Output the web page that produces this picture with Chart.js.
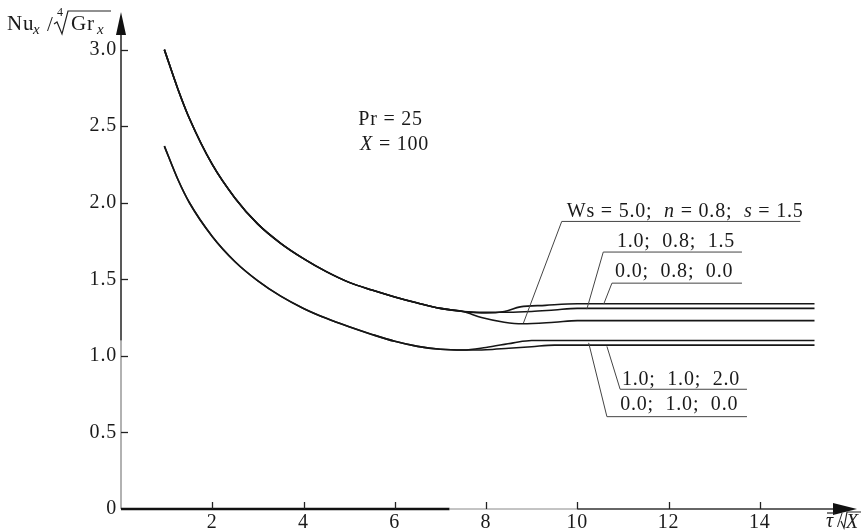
<!DOCTYPE html>
<html>
<head>
<meta charset="utf-8">
<script src="https://cdn.jsdelivr.net/npm/chart.js@4.4.0/dist/chart.umd.min.js"></script>
<style>
  html, body { margin: 0; padding: 0; background: #fff; }
  #wrap { width: 861px; height: 531px; }
</style>
</head>
<body>
<div id="wrap"><canvas id="Chart" width="861" height="531"></canvas></div>
<script>
// tick values
const xTicks = [2, 4, 6, 8, 10, 12, 14];
const yTicks = [0, 0.5, 1.0, 1.5, 2.0, 2.5, 3.0];

// common part of the curves, before they split
const xHead = [0.95, 1.25, 1.5, 2, 2.5, 3, 3.5, 4, 4.5, 5, 5.5, 6, 6.5, 7, 7.5];
const upperHead = [3.00, 2.74, 2.55, 2.25, 2.03, 1.86, 1.735, 1.635, 1.55, 1.48, 1.43, 1.385, 1.345, 1.31, 1.29];
const lowerHead = [2.37, 2.15, 2.00, 1.78, 1.615, 1.49, 1.39, 1.31, 1.245, 1.19, 1.14, 1.095, 1.062, 1.043, 1.038];

// tails: Ws; n; s
const xTailA = [7.9, 8.4, 8.8, 9.5, 10.0, 15.2];   // 5.0; 0.8; 1.5
const tailA = [1.25, 1.22, 1.21, 1.22, 1.23, 1.23];
const xTailB = [8.0, 8.5, 9.0, 9.5, 10.0, 15.2];   // 1.0; 0.8; 1.5
const tailB = [1.285, 1.285, 1.29, 1.30, 1.31, 1.31];
const xTailC = [8.0, 8.4, 8.75, 9.3, 10.0, 15.2];  // 0.0; 0.8; 0.0
const tailC = [1.28, 1.29, 1.32, 1.33, 1.34, 1.34];
const xTailD = [8.0, 8.6, 9.0, 15.2];              // 0.0; 1.0; 0.0
const tailD = [1.055, 1.085, 1.10, 1.10];
const xTailE = [8.0, 8.5, 9.0, 9.5, 15.2];         // 1.0; 1.0; 2.0
const tailE = [1.04, 1.05, 1.06, 1.07, 1.07];

const seriesLabels = ['Ws = 5.0; n = 0.8; s = 1.5', '1.0; 0.8; 1.5', '0.0; 0.8; 0.0', '0.0; 1.0; 0.0', '1.0; 1.0; 2.0'];

const FONT = '"Liberation Serif", "Times New Roman", serif';

function series(xs, ys) {
  return xs.map((v, i) => ({ x: v, y: ys[i] }));
}

function line(label, xs, ys) {
  return {
    label: label,
    data: series(xs, ys),
    borderColor: '#161616',
    borderWidth: 1.6,
    pointRadius: 0,
    cubicInterpolationMode: 'monotone',
    fill: false
  };
}

// curve labels, in data units: text start, underline, leader end on the curve
const notes = [
  { runs: [['Ws = 5.0;  ', 0], ['n', 1], [' = 0.8;  ', 0], ['s', 1], [' = 1.5', 0]],
    tx: 9.77, ty: 1.910, x0: 9.66, x1: 14.89, ly: 1.878, px: 8.82, py: 1.214 },
  { runs: [['1.0;  0.8;  1.5', 0]], tx: 10.87, ty: 1.714, x0: 10.57, x1: 13.61, ly: 1.678, px: 10.21, py: 1.305 },
  { runs: [['0.0;  0.8;  0.0', 0]], tx: 10.83, ty: 1.518, x0: 10.76, x1: 13.61, ly: 1.475, px: 10.58, py: 1.338 },
  { runs: [['1.0;  1.0;  2.0', 0]], tx: 10.98, ty: 0.810, x0: 10.94, x1: 13.72, ly: 0.782, px: 10.65, py: 1.062 },
  { runs: [['0.0;  1.0;  0.0', 0]], tx: 10.94, ty: 0.647, x0: 10.65, x1: 13.72, ly: 0.603, px: 10.25, py: 1.085 }
];

function drawRuns(ctx, parts, px, py, size) {
  let cx = px;
  parts.forEach(([t, it]) => {
    ctx.font = (it ? 'italic ' : '') + size + 'px ' + FONT;
    ctx.fillText(t, cx, py);
    cx += ctx.measureText(t).width;
  });
}

const decor = {
  id: 'decor',
  beforeDraw(chart) {
    chart.ctx.letterSpacing = '0.8px';
  },
  afterDraw(chart) {
    const { ctx, chartArea: a, scales: { x, y } } = chart;
    ctx.save();
    ctx.lineCap = 'butt';

    // y axis (scan is faint on the lower part)
    ctx.strokeStyle = '#999';
    ctx.lineWidth = 1.5;
    ctx.beginPath();
    ctx.moveTo(a.left, a.bottom);
    ctx.lineTo(a.left, y.getPixelForValue(1.1));
    ctx.stroke();
    ctx.strokeStyle = '#222';
    ctx.beginPath();
    ctx.moveTo(a.left, y.getPixelForValue(1.1));
    ctx.lineTo(a.left, a.top + 14);
    ctx.stroke();

    // x axis
    ctx.strokeStyle = '#111';
    ctx.lineWidth = 2.5;
    ctx.beginPath();
    ctx.moveTo(a.left, a.bottom);
    ctx.lineTo(x.getPixelForValue(7.2), a.bottom);
    ctx.stroke();
    ctx.strokeStyle = '#888';
    ctx.lineWidth = 1;
    ctx.beginPath();
    ctx.moveTo(x.getPixelForValue(7.2), a.bottom);
    ctx.lineTo(x.getPixelForValue(10), a.bottom);
    ctx.stroke();
    ctx.strokeStyle = '#333';
    ctx.lineWidth = 1.5;
    ctx.beginPath();
    ctx.moveTo(x.getPixelForValue(10), a.bottom);
    ctx.lineTo(a.right - 14, a.bottom);
    ctx.stroke();

    // arrows
    ctx.fillStyle = '#111';
    ctx.beginPath();
    ctx.moveTo(a.left, a.top - 7);
    ctx.lineTo(a.left - 5, a.top + 16);
    ctx.lineTo(a.left + 5, a.top + 16);
    ctx.closePath();
    ctx.fill();
    ctx.beginPath();
    ctx.moveTo(a.right + 6, a.bottom);
    ctx.lineTo(a.right - 18, a.bottom - 6);
    ctx.lineTo(a.right - 18, a.bottom + 6);
    ctx.closePath();
    ctx.fill();

    // inward tick marks
    ctx.strokeStyle = '#222';
    ctx.lineWidth = 1.3;
    yTicks.filter(v => v > 0).forEach(v => {
      const py = Math.round(y.getPixelForValue(v)) + 0.5;
      ctx.beginPath();
      ctx.moveTo(a.left, py);
      ctx.lineTo(a.left + 7, py);
      ctx.stroke();
    });
    xTicks.forEach(v => {
      const px = Math.round(x.getPixelForValue(v)) + 0.5;
      ctx.beginPath();
      ctx.moveTo(px, a.bottom);
      ctx.lineTo(px, a.bottom - 7);
      ctx.stroke();
    });

    // curve labels with leaders
    ctx.fillStyle = '#1a1a1a';
    ctx.textBaseline = 'alphabetic';
    ctx.textAlign = 'left';
    notes.forEach(n => {
      drawRuns(ctx, n.runs, x.getPixelForValue(n.tx), y.getPixelForValue(n.ty), 20);
      ctx.strokeStyle = '#444';
      ctx.lineWidth = 1;
      ctx.beginPath();
      ctx.moveTo(x.getPixelForValue(n.px), y.getPixelForValue(n.py));
      ctx.lineTo(x.getPixelForValue(n.x0), y.getPixelForValue(n.ly));
      ctx.lineTo(x.getPixelForValue(n.x1), y.getPixelForValue(n.ly));
      ctx.stroke();
    });

    // parameters
    drawRuns(ctx, [['Pr = 25', 0]], x.getPixelForValue(5.20), y.getPixelForValue(2.51), 20);
    drawRuns(ctx, [['X', 1], [' = 100', 0]], x.getPixelForValue(5.24), y.getPixelForValue(2.346), 20);

    // y axis title: Nu_x / 4th root of Gr_x
    const tl = a.left - 114;
    ctx.font = '21px ' + FONT;
    ctx.fillText('Nu', tl, 30);
    ctx.font = 'italic 15px ' + FONT;
    ctx.fillText('x', tl + 26, 34);
    ctx.font = '21px ' + FONT;
    ctx.fillText('/', tl + 40, 31);
    ctx.font = '12px ' + FONT;
    ctx.fillText('4', tl + 50, 16);
    ctx.strokeStyle = '#222';
    ctx.lineWidth = 1.2;
    ctx.beginPath();
    ctx.moveTo(tl + 47, 24);
    ctx.lineTo(tl + 50, 22);
    ctx.lineTo(tl + 55, 34);
    ctx.lineTo(tl + 61, 11);
    ctx.lineTo(tl + 104, 11);
    ctx.stroke();
    ctx.font = '21px ' + FONT;
    ctx.fillText('Gr', tl + 64, 30);
    ctx.font = 'italic 15px ' + FONT;
    ctx.fillText('x', tl + 90, 34);

    // x axis title: tau bar / sqrt X
    const bx = a.right - 25;
    ctx.font = 'italic 20px ' + FONT;
    ctx.fillText('τ', bx, 527);
    ctx.beginPath();
    ctx.moveTo(bx + 1, 513);
    ctx.lineTo(bx + 9, 513);
    ctx.stroke();
    ctx.font = '20px ' + FONT;
    ctx.fillText('/', bx + 11, 527);
    ctx.beginPath();
    ctx.moveTo(bx + 15, 521);
    ctx.lineTo(bx + 18, 528);
    ctx.lineTo(bx + 21, 512);
    ctx.lineTo(bx + 35, 512);
    ctx.stroke();
    ctx.font = 'italic 20px ' + FONT;
    ctx.fillText('X', bx + 20, 528);

    ctx.restore();
  }
};

const ctx = document.getElementById('Chart').getContext('2d');
const myChart = new Chart(ctx, {
  type: 'line',
  data: {
    datasets: [
      line(seriesLabels[0], xHead.concat(xTailA), upperHead.concat(tailA)),
      line(seriesLabels[1], xHead.concat(xTailB), upperHead.concat(tailB)),
      line(seriesLabels[2], xHead.concat(xTailC), upperHead.concat(tailC)),
      line(seriesLabels[3], xHead.concat(xTailD), lowerHead.concat(tailD)),
      line(seriesLabels[4], xHead.concat(xTailE), lowerHead.concat(tailE))
    ]
  },
  options: {
    responsive: false,
    devicePixelRatio: 1,
    animation: false,
    layout: { padding: { top: 19, right: 10, left: 0, bottom: 0 } },
    plugins: { legend: { display: false }, tooltip: { enabled: false } },
    scales: {
      x: {
        type: 'linear',
        min: 0,
        max: 16,
        grid: { display: false, drawTicks: false },
        border: { display: false },
        afterBuildTicks: s => { s.ticks = xTicks.map(v => ({ value: v })); },
        afterFit: s => { s.height = 22; },
        ticks: {
          padding: 2,
          color: '#1a1a1a',
          font: { family: FONT, size: 20 },
          maxRotation: 0,
          autoSkip: false
        }
      },
      y: {
        type: 'linear',
        min: 0,
        max: 3.2,
        grid: { display: false, drawTicks: false },
        border: { display: false },
        afterBuildTicks: s => { s.ticks = yTicks.map(v => ({ value: v })); },
        afterFit: s => { s.width = 121; },
        ticks: {
          padding: 4,
          color: '#1a1a1a',
          font: { family: FONT, size: 20 },
          autoSkip: false,
          callback: v => (v === 0 ? '0' : v.toFixed(1))
        }
      }
    }
  },
  plugins: [decor]
});
</script>
</body>
</html>
